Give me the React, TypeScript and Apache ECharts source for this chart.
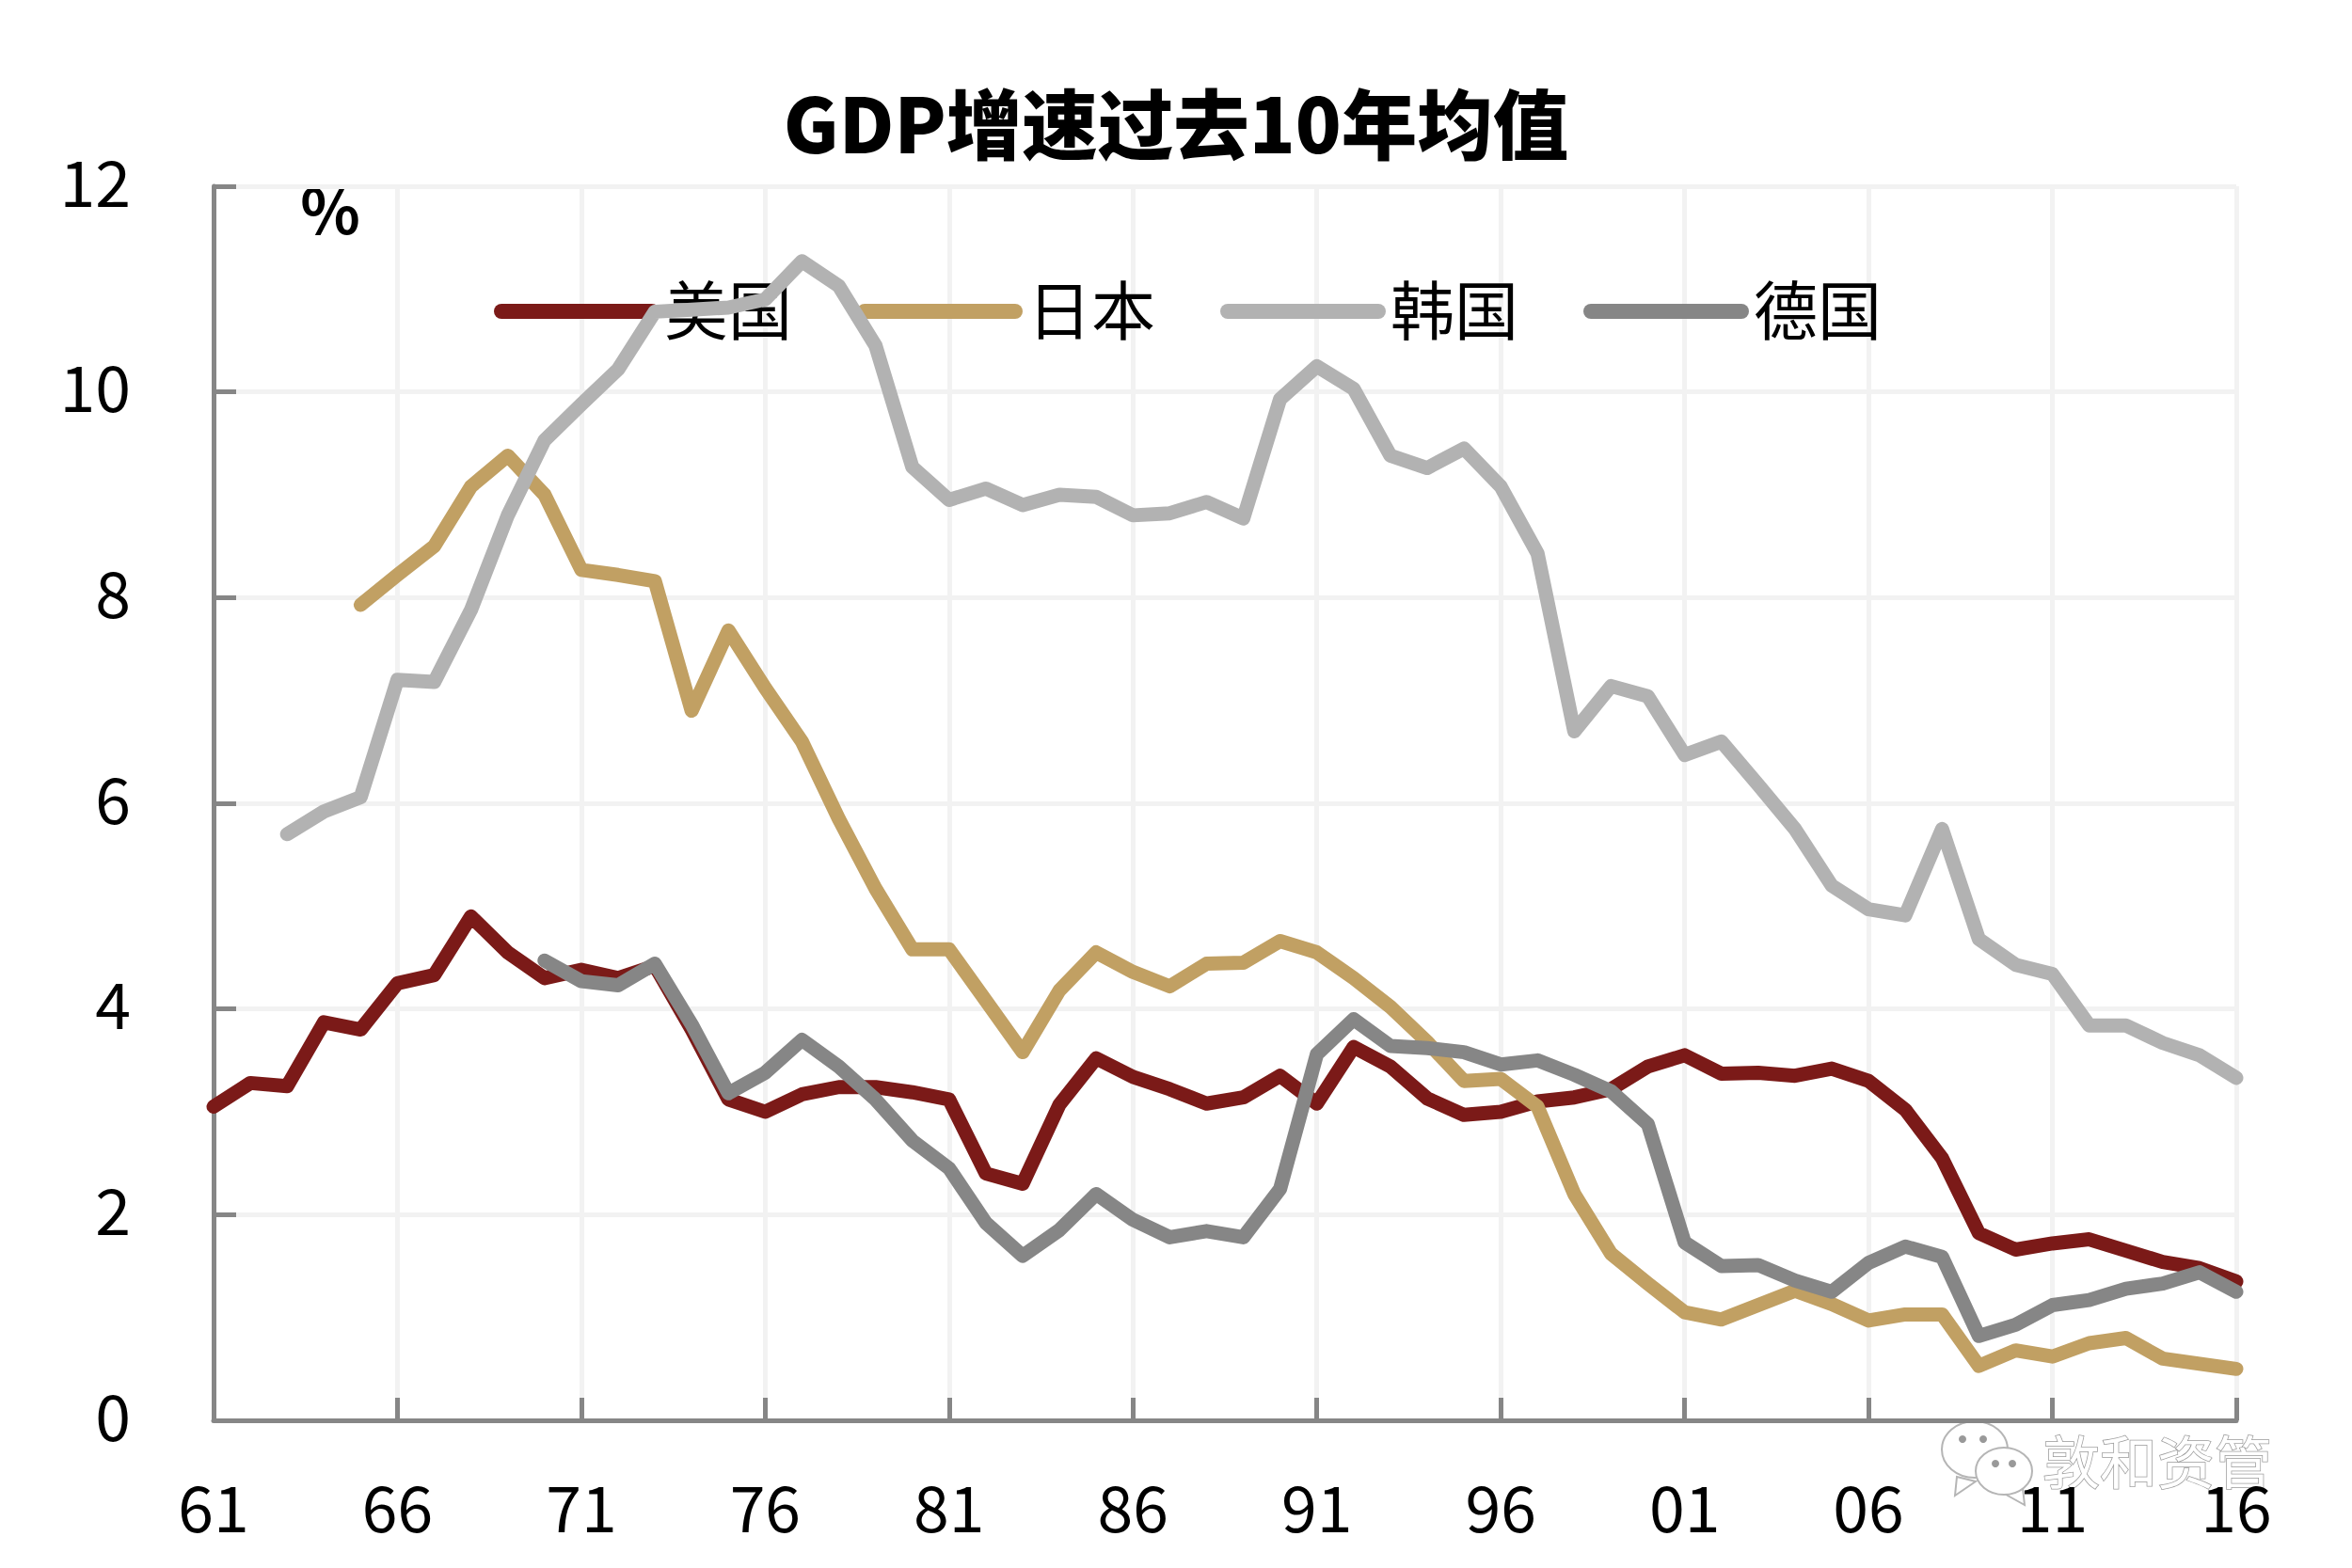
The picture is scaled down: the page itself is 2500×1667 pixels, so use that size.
import React, { useEffect, useRef } from "react";
import * as echarts from "echarts";

const titleText = "GDP增速过去10年均值";
const unitText = "%";
const watermarkText = "敦和资管";
const years = ["61","62","63","64","65","66","67","68","69","70","71","72","73","74","75","76","77","78","79","80","81","82","83","84","85","86","87","88","89","90","91","92","93","94","95","96","97","98","99","00","01","02","03","04","05","06","07","08","09","10","11","12","13","14","15","16"];
const usa = [3.05,3.28,3.25,3.87,3.8,4.25,4.33,4.9,4.55,4.3,4.38,4.3,4.42,3.8,3.12,3.0,3.17,3.24,3.24,3.19,3.12,2.4,2.3,3.07,3.52,3.34,3.22,3.08,3.14,3.35,3.08,3.63,3.44,3.13,2.97,3.0,3.1,3.14,3.22,3.44,3.55,3.37,3.38,3.35,3.42,3.3,3.02,2.55,1.82,1.66,1.72,1.76,1.65,1.54,1.48,1.35];
const japan = [null,null,null,null,7.93,8.22,8.5,9.08,9.38,9.0,8.27,8.22,8.16,6.9,7.68,7.12,6.6,5.85,5.17,4.58,4.58,4.08,3.58,4.18,4.55,4.36,4.22,4.44,4.45,4.66,4.55,4.3,4.02,3.68,3.3,3.32,3.05,2.2,1.62,1.33,1.05,0.98,1.12,1.26,1.13,0.97,1.03,1.03,0.53,0.68,0.62,0.75,0.8,0.6,0.55,0.5];
const korea = [null,null,5.7,5.92,6.06,7.2,7.18,7.88,8.8,9.53,9.88,10.22,10.78,10.8,10.82,10.9,11.27,11.03,10.45,9.27,8.95,9.06,8.9,9.0,8.98,8.8,8.82,8.93,8.77,9.93,10.25,10.03,9.38,9.26,9.45,9.08,8.43,6.7,7.14,7.04,6.47,6.6,6.18,5.75,5.2,4.97,4.91,5.75,4.68,4.43,4.34,3.84,3.84,3.67,3.55,3.33];
const germany = [null,null,null,null,null,null,null,null,null,4.47,4.27,4.23,4.44,3.85,3.18,3.38,3.7,3.44,3.12,2.72,2.45,1.92,1.6,1.85,2.2,1.95,1.78,1.84,1.78,2.25,3.56,3.9,3.64,3.62,3.58,3.46,3.5,3.36,3.2,2.88,1.73,1.5,1.51,1.36,1.25,1.53,1.69,1.59,0.82,0.93,1.12,1.17,1.28,1.33,1.44,1.25];
const seriesNames = ["美国", "日本", "韩国", "德国"];
const seriesColors = ["#7b1a18", "#c1a063", "#b2b2b2", "#868686"];

const FONT = "'Noto Sans CJK SC', sans-serif";
const CAPSULE = "path://M8 0H168A8 8 0 0 1 168 16H8A8 8 0 0 1 8 0Z";

export default function App() {
  const ref = useRef<HTMLDivElement>(null);
  useEffect(() => {
    document.body.style.margin = "0";
    const chart = echarts.init(ref.current!, undefined, { renderer: "svg" });
    const values = [usa, japan, korea, germany];
    const bubble = (x: number, y: number, rx: number, ry: number) => ({
      type: "ellipse",
      shape: { cx: x, cy: y, rx, ry },
      style: { fill: "#fff", stroke: "#b5b5b5", lineWidth: 2 },
    });
    const dot = (x: number, y: number) => ({
      type: "circle",
      shape: { cx: x, cy: y, r: 4 },
      style: { fill: "#999" },
    });
    chart.setOption({
      animation: false,
      backgroundColor: "#ffffff",
      title: {
        text: titleText,
        left: 1245,
        textAlign: "center",
        top: 75,
        textStyle: { fontFamily: FONT, fontWeight: 900, fontSize: 80.5, color: "#000", lineHeight: 96 },
      },
      legend: {
        left: 520,
        top: 287,
        itemWidth: 176,
        itemHeight: 16,
        itemGap: 69,
        icon: CAPSULE,
        data: seriesNames,
        formatter: (name: string) => `{a|${name}}`,
        textStyle: {
          fontFamily: FONT,
          fontSize: 68,
          color: "#000",
          rich: { a: { fontFamily: FONT, fontSize: 68, color: "#000", padding: [0, 0, 10, 0] } },
        },
      },
      grid: { left: 227, top: 198, width: 2150, height: 1312, containLabel: false },
      xAxis: {
        type: "category",
        data: years,
        boundaryGap: false,
        axisLine: { lineStyle: { color: "#868686", width: 5 } },
        axisTick: { inside: true, length: 24, interval: 4, alignWithLabel: true, lineStyle: { color: "#868686", width: 5 } },
        axisLabel: { interval: 4, margin: 55, fontFamily: FONT, fontSize: 68, color: "#000" },
        splitLine: { show: true, interval: 4, lineStyle: { color: "#f2f2f2", width: 5 } },
      },
      yAxis: {
        type: "value",
        min: 0,
        max: 12,
        interval: 2,
        axisLine: { show: true, lineStyle: { color: "#868686", width: 5 } },
        axisTick: { show: true, inside: true, length: 24, lineStyle: { color: "#868686", width: 5 } },
        axisLabel: { margin: 88, fontFamily: FONT, fontSize: 68, color: "#000", verticalAlign: "bottom", lineHeight: 16 },
        splitLine: { show: true, lineStyle: { color: "#f2f2f2", width: 5 } },
      },
      series: seriesNames.map((name, i) => ({
        name,
        type: "line",
        data: values[i],
        showSymbol: false,
        symbol: "none",
        smooth: false,
        connectNulls: false,
        z: 2 + i,
        itemStyle: { color: seriesColors[i] },
        lineStyle: { color: seriesColors[i], width: 15, cap: "round", join: "round" },
      })),
      graphic: [
        {
          type: "text",
          x: 351,
          y: 220,
          style: { text: unitText, fontFamily: FONT, fontWeight: "bold", fontSize: 66, fill: "#000", textAlign: "center", textVerticalAlign: "middle" },
        },
        {
          type: "group",
          z: 100,
          children: [
            { type: "polygon", shape: { points: [[2080, 1570], [2078, 1590], [2100, 1575]] }, style: { fill: "#fff", stroke: "#b5b5b5", lineWidth: 2 } },
            bubble(2099, 1541, 35, 30),
            { type: "polygon", shape: { points: [[2125, 1585], [2152, 1600], [2150, 1582]] }, style: { fill: "#fff", stroke: "#b5b5b5", lineWidth: 2 } },
            bubble(2130, 1564, 30, 25),
            dot(2086, 1530),
            dot(2108, 1530),
            dot(2121, 1556),
            dot(2139, 1556),
            {
              type: "text",
              x: 2171,
              y: 1551,
              style: { text: watermarkText, fontFamily: FONT, fontSize: 61, fill: "#fff", stroke: "#9a9a9a", lineWidth: 1.5, textAlign: "left", textVerticalAlign: "middle" },
            },
          ],
        },
      ],
    });
    return () => chart.dispose();
  }, []);
  return <div ref={ref} style={{ position: "absolute", left: 0, top: 0, width: 2500, height: 1667 }} />;
}
